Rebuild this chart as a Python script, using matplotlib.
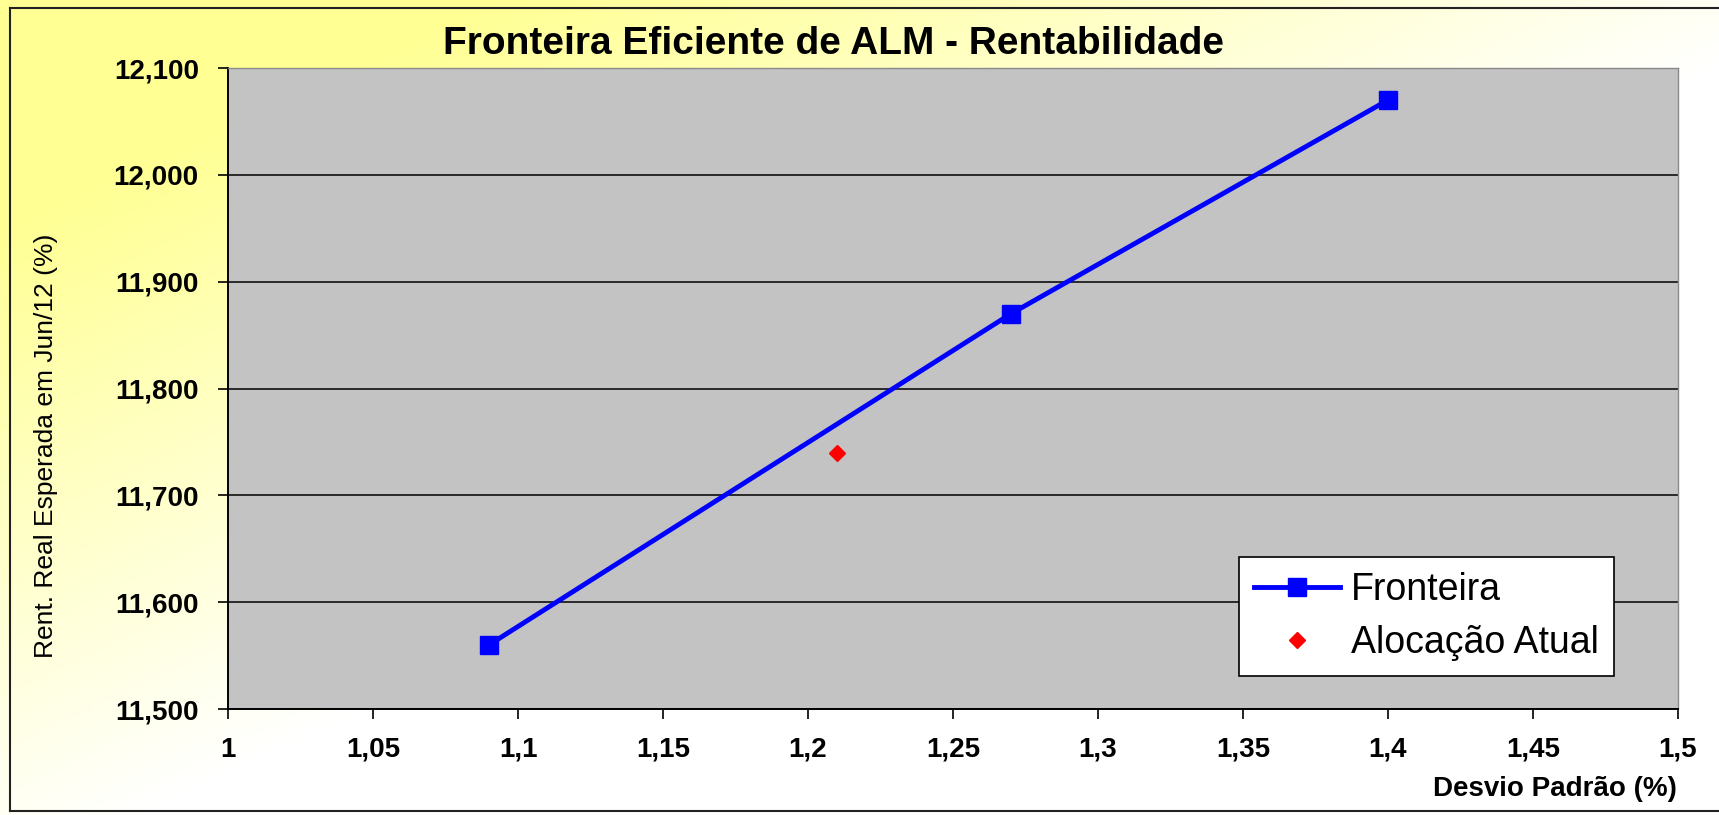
import numpy as np
import matplotlib.pyplot as plt
from matplotlib.lines import Line2D
from matplotlib.ticker import FuncFormatter

# dados
desvio_fronteira = [1.09, 1.27, 1.40]
rent_fronteira = [11.56, 11.87, 12.07]
desvio_atual = [1.21]
rent_atual = [11.74]

x_ticks = [1.0, 1.05, 1.1, 1.15, 1.2, 1.25, 1.3, 1.35, 1.4, 1.45, 1.5]
y_ticks = [11.5, 11.6, 11.7, 11.8, 11.9, 12.0, 12.1]

plt.rcParams['font.family'] = ['Liberation Sans', 'DejaVu Sans']

W, H = 1719, 815
fig = plt.figure(figsize=(W / 100, H / 100), dpi=100)

# fundo em degrade amarelo -> branco
bg = fig.add_axes([0, 0, 1, 1], zorder=-10)
xx, yy = np.meshgrid(np.linspace(0, 1, 300), np.linspace(0, 1, 150))
t = np.clip(1.35 - (xx / 0.8 + yy / 0.8), 0, 1)
img = np.ones((150, 300, 3))
img[..., 2] = 1 - 0.42 * t
bg.imshow(img, aspect='auto', extent=[0, 1, 1, 0], origin='upper')
bg.set_xlim(0, 1)
bg.set_ylim(1, 0)
bg.axis('off')

# moldura
for xs, ys in [([10 / W, 10 / W], [1 - 8 / H, 4 / H]),
               ([10 / W, 1], [1 - 8 / H, 1 - 8 / H]),
               ([10 / W, 1], [4 / H, 4 / H])]:
    fig.add_artist(Line2D(xs, ys, color='#222222', lw=1.5, transform=fig.transFigure))

ax = fig.add_axes([228 / W, 1 - 709 / H, 1450 / W, 641 / H])
ax.set_facecolor('#c3c3c3')
ax.set_xlim(1.0, 1.5)
ax.set_ylim(11.5, 12.1)
ax.set_xticks(x_ticks)
ax.set_yticks(y_ticks)
ax.xaxis.set_major_formatter(FuncFormatter(lambda v, p: ('%g' % round(v, 2)).replace('.', ',')))
ax.yaxis.set_major_formatter(FuncFormatter(lambda v, p: ('%.3f' % v).replace('.', ',')))
ax.grid(axis='y', color='black', lw=1.1)
ax.set_axisbelow(True)
for s in ['left', 'bottom']:
    ax.spines[s].set_linewidth(1.4)
for s in ['top', 'right']:
    ax.spines[s].set_color('#8a8a8a')
    ax.spines[s].set_linewidth(1.0)
ax.tick_params(axis='y', length=7, width=1.2, pad=14, labelsize=20)
ax.tick_params(axis='x', length=7, width=1.2, pad=13, labelsize=20)
for lab in ax.get_xticklabels() + ax.get_yticklabels():
    lab.set_fontweight('bold')

ax.plot(desvio_fronteira, rent_fronteira, color='#0000ff', lw=3.5, marker='s',
        markersize=13, label='Fronteira')
ax.plot(desvio_atual, rent_atual, ls='none', color='#ff0000', marker='D',
        markersize=8, label='Alocação Atual')

leg = ax.legend(loc='lower right', bbox_to_anchor=(0.956, 0.051),
                fontsize=27, frameon=True, fancybox=False, edgecolor='black',
                framealpha=1, handlelength=2.3, handletextpad=0.3, borderpad=0.4,
                labelspacing=0.45, borderaxespad=0)
leg.get_frame().set_linewidth(1.2)

ax.set_ylabel('Rent. Real Esperada em Jun/12 (%)', fontsize=19)
ax.yaxis.set_label_coords(-0.117, 0.41)

fig.text(833 / W, 1 - 44 / H, 'Fronteira Eficiente de ALM - Rentabilidade',
         ha='center', va='center', fontsize=28, fontweight='bold')
fig.text(1677 / W, 1 - 789 / H, 'Desvio Padrão (%)', ha='right', va='center',
         fontsize=20, fontweight='bold')

fig.savefig('out.png', dpi=100)
